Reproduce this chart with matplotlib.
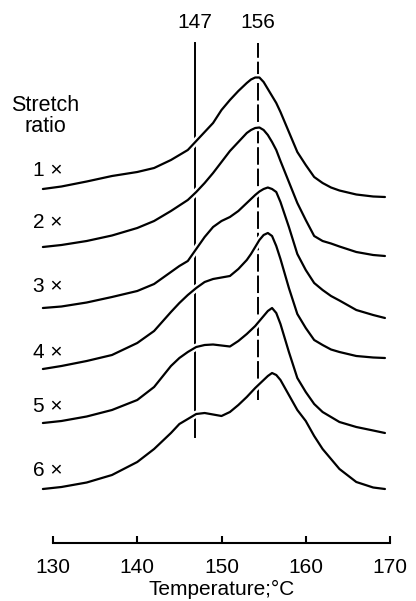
import numpy as np
import matplotlib
matplotlib.use('Agg')
import matplotlib.pyplot as plt
import matplotlib.patheffects as pe

plt.rcParams['font.family'] = ['Liberation Sans', 'DejaVu Sans']

# =============================================================================
# DSC traces (temperature in deg C, signal in arbitrary
# units, each trace already carries its own vertical offset)
# =============================================================================

temps = [128.8, 131, 134, 137, 140, 142, 144, 145, 146, 147, 148, 149, 150,
         151, 152, 153, 153.5, 154, 154.5, 155, 155.5, 156, 156.5, 157, 158,
         159, 160, 161, 162, 163, 164, 166, 168, 169.4]

ratio_1x = [354, 356.5, 361.5, 367, 371, 375, 383, 388, 393, 402, 411, 420, 433,
            443, 452, 460, 463.5, 465.5, 465.5, 461, 454, 447, 440, 431, 411,
            391, 378, 366, 360, 355.5, 352.5, 348.5, 346.5, 346]
ratio_2x = [296, 298, 302, 307.5, 315, 322, 332, 337.5, 343, 351, 360, 370, 381,
            392, 401, 410, 413, 415, 415.5, 413, 408, 401, 393, 382, 361,
            340, 323, 307, 302, 299.5, 296.5, 291, 288, 287]
ratio_3x = [235, 236.5, 240.5, 246, 252, 259, 271, 277, 282, 294, 306, 316, 322,
            326, 332, 340, 344, 348, 351.5, 354, 355.5, 354, 351, 341, 316,
            289, 273, 260, 253, 247, 242.5, 233, 228, 225]
ratio_4x = [174, 177, 182, 188, 200, 212, 231, 240, 248, 255, 261, 264, 265.5,
            267, 274, 283, 289, 296, 303, 308, 310, 307, 297, 284, 255,
            229, 215, 203, 198, 193.5, 191, 187, 185.5, 185]
ratio_5x = [120, 122, 126.5, 133, 143, 156, 177, 185, 191, 196, 198, 198.5, 197.5,
            196.5, 202, 209, 213, 217, 222, 227, 232, 235, 230, 219, 191,
            165, 151, 139, 131, 126, 121, 116, 112.5, 110]
ratio_6x = [54, 56, 60.5, 68, 81, 94, 110, 119, 124, 129, 130, 128.5, 127,
            131, 138, 146, 150.5, 155, 159, 163, 167, 170, 168, 163, 148,
            133, 122, 107, 94, 84, 74, 61, 55.5, 54]

curves = [ratio_1x, ratio_2x, ratio_3x, ratio_4x, ratio_5x, ratio_6x]
curve_labels = ['1 ×', '2 ×', '3 ×', '4 ×', '5 ×', '6 ×']

# reference lines for the two melting peaks
peak_pos = [146.8, 154.3]
peak_labels = ['147', '156']
peak_top = [500, 500]
peak_bottom = [106, 143]

x_ticks = [130, 140, 150, 160, 170]

# =============================================================================

fig = plt.figure(figsize=(4.16, 6.01), dpi=100)
ax = fig.add_axes([53 / 416, 58 / 601, 337 / 416, 543 / 601])
ax.set_xlim(130, 170)
ax.set_ylim(0, 543)

# vertical guide lines, cut where the traces cross them
ax.plot([peak_pos[0]] * 2, [peak_bottom[0], peak_top[0]], color='black',
        lw=1.4, zorder=1, clip_on=False)
ax.plot([peak_pos[1]] * 2, [peak_bottom[1], peak_top[1]], color='black',
        lw=1.4, ls=(0, (9, 2)), zorder=1, clip_on=False)

halo = [pe.Stroke(linewidth=5, foreground='white'), pe.Normal()]
for ys in curves:
    ax.plot(temps, ys, color='black', lw=1.6, zorder=2, clip_on=False,
            solid_capstyle='round', solid_joinstyle='round', path_effects=halo)

for pos, lab in zip(peak_pos, peak_labels):
    ax.text(pos, 521, lab, ha='center', va='center', fontsize=15)

# stretch ratio labels
fig.text(45 / 416, 1 - 116 / 601, 'Stretch\nratio', ha='center', va='center',
         fontsize=15.5, linespacing=0.95)
label_y = [170, 223, 287, 352, 406, 471]
for lab, py in zip(curve_labels, label_y):
    fig.text(63 / 416, 1 - py / 601, lab, ha='right', va='center', fontsize=15)

# temperature axis
for side in ['left', 'right', 'top']:
    ax.spines[side].set_visible(False)
ax.spines['bottom'].set_linewidth(1.5)
ax.set_yticks([])
ax.set_xticks(x_ticks)
ax.tick_params(axis='x', direction='in', length=5, width=1.5, pad=11,
               labelsize=15)
ax.set_xlabel('Temperature;°C', fontsize=15, labelpad=2)
ax.patch.set_alpha(0)

fig.savefig('out.png', dpi=100)
